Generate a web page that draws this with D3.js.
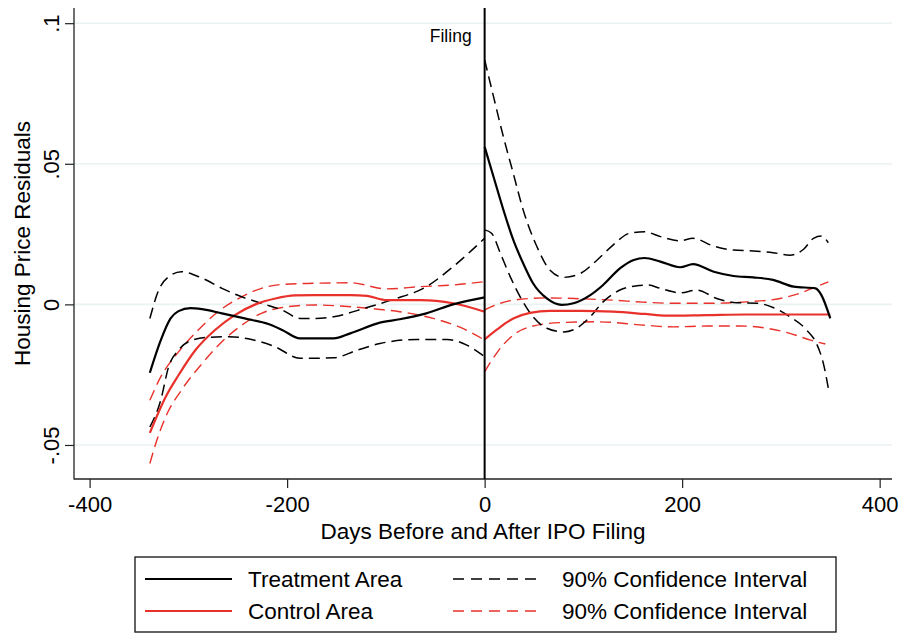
<!DOCTYPE html>
<html>
<head>
<meta charset="utf-8">
<script src="https://cdn.jsdelivr.net/npm/d3@7"></script>
<style>
    body { margin: 0; background: #fff; }
    svg { display: block; font-family: "Liberation Sans", Arial, Helvetica, sans-serif; }
</style>
</head>
<body>
<svg id="chart" width="902" height="635"></svg>
<script>
"use strict";

/* [days, residual], one array per line */
var treatPre = [[-339, -0.0243], [-328, -0.0128], [-318, -0.0050], [-310, -0.0024], [-298, -0.0013], [-286, -0.0017],
    [-266, -0.0032], [-243, -0.0050], [-219, -0.0070], [-205, -0.0091], [-187, -0.0121], [-153, -0.0121],
    [-136, -0.0103], [-106, -0.0065], [-86, -0.0053], [-59, -0.0032], [-32, 0.0000], [0, 0.0025]];
var treatPreHi = [[-339, -0.0050], [-330, 0.0051], [-320, 0.0098], [-307, 0.0116], [-286, 0.0093], [-266, 0.0057],
    [-246, 0.0027], [-226, 0.0004], [-205, -0.0020], [-187, -0.0050], [-172, -0.0050], [-153, -0.0044],
    [-119, -0.0011], [-92, 0.0018], [-59, 0.0063], [-32, 0.0134], [0, 0.0235]];
var treatPreLo = [[-339, -0.0436], [-328, -0.0341], [-320, -0.0222], [-310, -0.0163], [-300, -0.0133], [-280, -0.0117],
    [-259, -0.0115], [-236, -0.0125], [-212, -0.0151], [-187, -0.0192], [-153, -0.0190], [-129, -0.0163],
    [-106, -0.0139], [-69, -0.0125], [-38, -0.0125], [-18, -0.0145], [0, -0.0186]];

var ctrlPre = [[-339, -0.0457], [-323, -0.0329], [-310, -0.0252], [-293, -0.0163], [-273, -0.0091], [-253, -0.0038],
    [-232, 0.0000], [-212, 0.0021], [-192, 0.0032], [-172, 0.0033], [-136, 0.0033], [-119, 0.0030],
    [-99, 0.0015], [-65, 0.0015], [-32, 0.0004], [0, -0.0026]];
var ctrlPreHi = [[-339, -0.0341], [-328, -0.0258], [-310, -0.0169], [-290, -0.0091], [-270, -0.0026], [-246, 0.0027],
    [-226, 0.0057], [-205, 0.0071], [-172, 0.0075], [-136, 0.0077], [-99, 0.0055], [-65, 0.0063],
    [-32, 0.0069], [0, 0.0081]];
var ctrlPreLo = [[-339, -0.0566], [-333, -0.0495], [-323, -0.0400], [-307, -0.0305], [-286, -0.0210], [-266, -0.0133],
    [-246, -0.0074], [-226, -0.0032], [-205, -0.0011], [-172, -0.0002], [-146, -0.0006], [-106, -0.0018],
    [-86, -0.0026], [-52, -0.0050], [-25, -0.0081], [0, -0.0127]];

var treatPost = [[0, 0.0560], [9, 0.0454], [19, 0.0336], [29, 0.0229], [39, 0.0146], [49, 0.0075], [63, 0.0021],
    [78, -0.0002], [90, 0.0004], [107, 0.0033], [120, 0.0069], [137, 0.0128], [151, 0.0158], [162, 0.0165],
    [178, 0.0152], [198, 0.0132], [211, 0.0143], [232, 0.0116], [252, 0.0101], [272, 0.0096], [292, 0.0087],
    [313, 0.0063], [335, 0.0057], [341, 0.0033], [350, -0.0050]];
var treatPostHi = [[0, 0.0870], [9, 0.0739], [19, 0.0596], [29, 0.0466], [39, 0.0336], [53, 0.0205], [66, 0.0122],
    [80, 0.0096], [97, 0.0110], [114, 0.0158], [130, 0.0211], [147, 0.0253], [162, 0.0258], [178, 0.0241],
    [198, 0.0226], [211, 0.0235], [232, 0.0207], [252, 0.0193], [272, 0.0190], [292, 0.0184], [309, 0.0175],
    [323, 0.0196], [333, 0.0235], [341, 0.0243], [348, 0.0219]];
var treatPostLo = [[0, 0.0265], [7, 0.0253], [16, 0.0181], [26, 0.0098], [36, 0.0027], [49, -0.0044], [63, -0.0085],
    [80, -0.0098], [93, -0.0085], [107, -0.0044], [120, 0.0009], [137, 0.0051], [154, 0.0066], [165, 0.0069],
    [178, 0.0057], [198, 0.0041], [215, 0.0051], [235, 0.0021], [255, 0.0006], [276, 0.0004], [292, -0.0011],
    [309, -0.0044], [326, -0.0091], [336, -0.0139], [343, -0.0210], [349, -0.0317]];

var ctrlPost = [[0, -0.0125], [12, -0.0091], [29, -0.0050], [46, -0.0030], [66, -0.0023], [97, -0.0023],
    [130, -0.0026], [162, -0.0034], [184, -0.0040], [225, -0.0038], [265, -0.0036], [309, -0.0036], [350, -0.0036]];
var ctrlPostHi = [[0, -0.0020], [16, 0.0004], [36, 0.0018], [63, 0.0023], [97, 0.0020], [130, 0.0015], [160, 0.0008],
    [191, 0.0004], [232, 0.0004], [265, 0.0009], [299, 0.0021], [319, 0.0039], [336, 0.0063], [348, 0.0080]];
var ctrlPostLo = [[0, -0.0240], [12, -0.0174], [29, -0.0109], [49, -0.0077], [76, -0.0065], [114, -0.0062],
    [162, -0.0074], [191, -0.0080], [225, -0.0077], [259, -0.0077], [286, -0.0085], [309, -0.0103],
    [330, -0.0127], [345, -0.0141]];

var xTicks = [-400, -200, 0, 200, 400];
var xTickLabels = ["-400", "-200", "0", "200", "400"];
var yTicks = [-0.05, 0, 0.05, 0.1];
var yTickLabels = ["-.05", "0", ".05", ".1"];
var legendItems = [
    { label: "Treatment Area", color: "#000", dash: null },
    { label: "90% Confidence Interval", color: "#000", dash: "11,7" },
    { label: "Control Area", color: "#e8312a", dash: null },
    { label: "90% Confidence Interval", color: "#e8312a", dash: "11,7" }
];

var RED = "#e8312a";
var DASH = "11,6";
var plot = { left: 74, right: 892, top: 8, bottom: 479 };

var svg = d3.select("#chart");

var x = d3.scaleLinear().domain([-415.8, 412.5]).range([plot.left, plot.right]);
var y = d3.scaleLinear().domain([-0.0621, 0.1054]).range([plot.bottom, plot.top]);

/* grid */
svg.append("g").selectAll("line").data(yTicks).enter().append("line")
    .attr("x1", plot.left).attr("x2", plot.right)
    .attr("y1", function (d) { return y(d); }).attr("y2", function (d) { return y(d); })
    .attr("stroke", "#eaf2f3").attr("stroke-width", 1.6);

/* axes */
var yAxis = d3.axisLeft(y).tickValues(yTicks).tickSize(9)
    .tickFormat(function (d, i) { return yTickLabels[i]; });
var gy = svg.append("g").attr("transform", "translate(" + plot.left + ",0)").call(yAxis);
gy.select(".domain").remove();
gy.selectAll(".tick line").attr("stroke", "#222").attr("stroke-width", 1.2);
gy.selectAll(".tick text").attr("x", null).attr("dy", null)
    .attr("transform", "translate(-15,0) rotate(-90)")
    .attr("text-anchor", "middle").attr("font-size", 22).attr("fill", "#000");

var xAxis = d3.axisBottom(x).tickValues(xTicks).tickSize(9)
    .tickFormat(function (d, i) { return xTickLabels[i]; });
var gx = svg.append("g").attr("transform", "translate(0," + plot.bottom + ")").call(xAxis);
gx.select(".domain").remove();
gx.selectAll(".tick line").attr("stroke", "#222").attr("stroke-width", 1.2);
gx.selectAll(".tick text").attr("y", 33).attr("dy", null)
    .attr("font-size", 22).attr("fill", "#000");

svg.append("line").attr("x1", plot.left).attr("x2", plot.left)
    .attr("y1", plot.top).attr("y2", plot.bottom + 0.6)
    .attr("stroke", "#222").attr("stroke-width", 1.3);
svg.append("line").attr("x1", plot.left).attr("x2", plot.right)
    .attr("y1", plot.bottom).attr("y2", plot.bottom)
    .attr("stroke", "#222").attr("stroke-width", 1.3);

svg.append("text").attr("x", (plot.left + plot.right) / 2).attr("y", 539)
    .attr("text-anchor", "middle").attr("font-size", 22.5)
    .text("Days Before and After IPO Filing");
svg.append("text")
    .attr("transform", "translate(30," + (plot.top + plot.bottom) / 2 + ") rotate(-90)")
    .attr("text-anchor", "middle").attr("font-size", 22.5)
    .text("Housing Price Residuals");

/* lines */
var line = d3.line()
    .x(function (d) { return x(d[0]); })
    .y(function (d) { return y(d[1]); })
    .curve(d3.curveMonotoneX);

function drawLine(data, color, dash, width) {
    svg.append("path").datum(data)
        .attr("d", line)
        .attr("fill", "none")
        .attr("stroke", color)
        .attr("stroke-width", width)
        .attr("stroke-dasharray", dash)
        .attr("stroke-linejoin", "round");
}

drawLine(ctrlPreHi, RED, DASH, 1.4);
drawLine(ctrlPreLo, RED, DASH, 1.4);
drawLine(ctrlPostHi, RED, DASH, 1.4);
drawLine(ctrlPostLo, RED, DASH, 1.4);
drawLine(treatPreHi, "#000", DASH, 1.5);
drawLine(treatPreLo, "#000", DASH, 1.5);
drawLine(treatPostHi, "#000", DASH, 1.5);
drawLine(treatPostLo, "#000", DASH, 1.5);
drawLine(ctrlPre, RED, null, 2.2);
drawLine(ctrlPost, RED, null, 2.2);
drawLine(treatPre, "#000", null, 2.2);
drawLine(treatPost, "#000", null, 2.2);

/* filing marker */
svg.append("line").attr("x1", x(0)).attr("x2", x(0))
    .attr("y1", plot.top).attr("y2", plot.bottom)
    .attr("stroke", "#000").attr("stroke-width", 2);
svg.append("text").attr("x", x(0) - 13).attr("y", 42)
    .attr("text-anchor", "end").attr("font-size", 17.5).text("Filing");

/* legend */
var legend = svg.append("g");
legend.append("rect").attr("x", 135).attr("y", 557).attr("width", 701).attr("height", 75)
    .attr("fill", "#fff").attr("stroke", "#222").attr("stroke-width", 1.4);

var items = legend.selectAll("g.item").data(legendItems).enter().append("g")
    .attr("class", "item")
    .attr("transform", function (d, i) {
        return "translate(" + (145 + (i % 2) * 308) + "," + (579 + Math.floor(i / 2) * 32) + ")";
    });
items.append("line").attr("x1", 0).attr("x2", 87).attr("y1", 0).attr("y2", 0)
    .attr("stroke", function (d) { return d.color; })
    .attr("stroke-width", function (d) { return d.dash ? 1.4 : 2.2; })
    .attr("stroke-dasharray", function (d) { return d.dash; });
items.append("text").attr("x", function (d, i) { return i % 2 ? 109 : 103; }).attr("y", 8)
    .attr("font-size", 22.5).text(function (d) { return d.label; });
</script>
</body>
</html>
